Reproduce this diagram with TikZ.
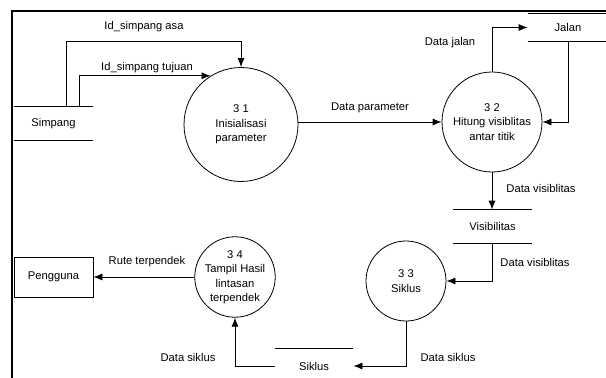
\documentclass[tikz,border=0pt]{standalone}
\usepackage{fontspec}
\setmainfont{Liberation Sans}
\usetikzlibrary{arrows.meta}
\tikzset{
process/.style = {shape=circle, draw, align=center, inner sep=0pt},
store/.style   = {shape=rectangle, minimum width=79pt,
                  minimum height=33pt, inner sep=0pt},
entity/.style  = {shape=rectangle, draw, minimum width=79pt,
                  minimum height=40pt, inner sep=0pt},
flow/.style    = {shape=rectangle, inner sep=0pt},
frame/.style   = {-, line width=2.3pt, line cap=rect}
}

\begin{document}
\begin{tikzpicture}[x=1pt, y=-1pt, ->, >={Latex[length=9pt,width=7pt]},
  line width=0.8pt,
  every node/.style={font=\fontsize{11.2}{14.5}\selectfont}]
\useasboundingbox (0,0) rectangle (606,378);
\draw[frame] (12,378) -- (12,11) -- (606,11);

% processes
\node[process, minimum size=114pt] (p31) at (241,124.5) {3 1\\Inisialisasi\\parameter};
\node[process, minimum size=100pt] (p32) at (492,122) {3 2\\Hitung visiblitas\\antar titik};
\node[process, minimum size=80pt]  (p33) at (406,281) {3 3\\Siklus};
\node[process, minimum size=80pt]  (p34) at (235,277) {3 4\\Tampil Hasil\\lintasan\\terpendek};

% stores and entity
\node[store] (simpang) at (53.5,123.5) {Simpang};
\node[store, minimum height=27pt, minimum width=80pt] (jalan) at (568,27.5) {Jalan};
\node[store] (visib) at (492.5,226.5) {Visibilitas};
\node[store, minimum height=34pt, minimum width=78pt] (siklus) at (314,366) {Siklus};
\node[entity] (pengguna) at (53.5,277) {Pengguna};

\foreach \s in {simpang,jalan,visib} {
  \draw[-] (\s.north west) -- (\s.north east) (\s.south west) -- (\s.south east);
}
\draw[-] (siklus.north west) -- (siklus.north east);

% flows
\draw ([xshift=53pt]simpang.north west) -- ++(0,-65) -| (p31.north);
\draw ([xshift=66pt]simpang.north west) |- (p31.122);
\draw (p32.west -| p31.east) -- (p32.west);
\draw (p32.north) |- (jalan.west);
\draw (jalan.south) |- (p32.east);
\draw (p32.south) -- (p32.south |- visib.north);
\draw (visib.south -| p32.south) |- (p33.east);
\draw (p33.south) |- (siklus.east);
\draw (siklus.west) -| (p34.south);
\draw (p34.west) -- (pengguna.east);

% labels
\node[flow] (lasa)    at (144,27)  {Id\_simpang asa};
\node[flow] (ltujuan) at (147,68)  {Id\_simpang tujuan};
\node[flow] (lparam)  at (370,108) {Data parameter};
\node[flow] (ljalan)  at (450,43)  {Data jalan};
\node[flow] (lvis)    at (541,188) {Data visiblitas};
\node[flow] (lvisb)   at (535,262) {Data visiblitas};
\node[flow] (lsiklus) at (448,357) {Data siklus};
\node[flow] (lsiklb)  at (188,357) {Data siklus};
\node[flow] (lrute)   at (147,262) {Rute terpendek};
\end{tikzpicture}
\end{document}
